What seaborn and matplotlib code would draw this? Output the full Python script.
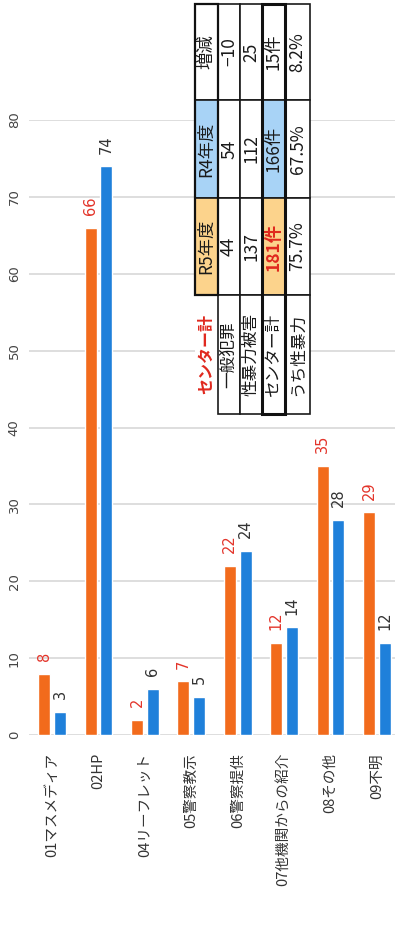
import matplotlib
matplotlib.use("Agg")
import matplotlib.pyplot as plt
from matplotlib.patches import Rectangle
import seaborn as sns
import pandas as pd

# ---- bar data ----
categories = ["01マスメディア", "02HP", "04リーフレット", "05警察教示",
              "06警察提供", "07他機関からの紹介", "08その他", "09不明"]
r5_values = [8, 66, 2, 7, 22, 12, 35, 29]
r4_values = [3, 74, 6, 5, 24, 14, 28, 12]
y_ticks = [0, 10, 20, 30, 40, 50, 60, 70, 80]

# ---- summary table data ----
table_title = "センター計"
table_header = ["R5年度", "R4年度", "増減"]
row_labels = ["一般犯罪", "性暴力被害", "センター計", "うち性暴力"]
col_r5 = ["44", "137", "181件", "75.7%"]
col_r4 = ["54", "112", "166件", "67.5%"]
col_diff = ["−10", "25", "15件", "8.2%"]

ORANGE = "#F26B1C"
BLUE = "#1F80DA"
RED = "#E0281E"
LIGHT_ORANGE = "#FCD38C"
LIGHT_BLUE = "#A8D3F6"
ROT = 90  # the whole chart is laid out turned a quarter turn

sns.set_theme(style="white")
plt.rcParams["font.family"] = ["Noto Sans CJK JP", "DejaVu Sans"]

W, H = 395, 939
fig = plt.figure(figsize=(W / 100, H / 100), dpi=100)


def fx(px):
    return px / W


def fy(py):
    return 1 - py / H


# plot area: value axis runs upward, 0 at py=735 and 80 at py=120
ax = fig.add_axes([fx(29), fy(735), fx(400) - fx(29), (735 - 120) / H])

df = pd.DataFrame({
    "category": categories * 2,
    "year": ["R5年度"] * len(categories) + ["R4年度"] * len(categories),
    "value": r5_values + r4_values,
})
sns.barplot(data=df, x="category", y="value", hue="year",
            hue_order=["R5年度", "R4年度"], palette=[ORANGE, BLUE],
            width=0.68, gap=0.24, saturation=1, legend=False, ax=ax,
            zorder=3)

ax.set_xlim(-0.5, 7.5)
ax.set_ylim(0, 80)
ax.set_yticks(y_ticks)
ax.set_yticklabels([str(t) for t in y_ticks], rotation=ROT, va="center",
                   fontsize=9.5, color="#444444", family="DejaVu Sans")
ax.tick_params(axis="y", length=0, pad=6)
ax.set_xticks(range(len(categories)))
ax.set_xticklabels(categories, rotation=ROT, ha="center", va="top",
                   fontsize=10.5, color="#333333")
ax.tick_params(axis="x", length=0, pad=13)
ax.set_xlabel("")
ax.set_ylabel("")
for s in ax.spines.values():
    s.set_visible(False)
ax.grid(axis="y", color="#d4d4d4", linewidth=1.1, zorder=0)
ax.set_axisbelow(True)

for cont, col in zip(ax.containers, ["#E3342A", "#333333"]):
    ax.bar_label(cont, labels=[str(int(b.get_height())) for b in cont],
                 padding=9, rotation=ROT, color=col, fontsize=10.5,
                 family="DejaVu Sans")

# ---- summary table (drawn turned, in figure pixel coordinates) ----
col_edges = [4, 100, 198, 295, 414]         # picture y: 増減 | R4 | R5 | labels
row_edges = [195, 218, 240, 262, 285, 310]  # picture x: header + 4 rows


def cell(x0, x1, y0, y1, face="white", lw=1.2):
    r = Rectangle((fx(x0), fy(y1)), fx(x1) - fx(x0), fy(y0) - fy(y1),
                  transform=fig.transFigure, facecolor=face,
                  edgecolor="#1a1a1a", linewidth=lw, zorder=5)
    fig.add_artist(r)


def ctext(x0, x1, y0, y1, s, color="#1a1a1a", weight="normal", size=12):
    fig.text(fx((x0 + x1) / 2), fy((y0 + y1) / 2), s, rotation=ROT,
             ha="center", va="center", color=color, fontsize=size,
             fontweight=weight, zorder=6)


# white backing under the whole table
fig.add_artist(Rectangle((fx(195), fy(col_edges[-1])), fx(310) - fx(195),
                         fy(4) - fy(col_edges[-1]), transform=fig.transFigure,
                         facecolor="white", edgecolor="none", zorder=4))

# columns ordered from top of picture: 増減, R4, R5
columns = [col_diff, col_r4, col_r5]
headers = [table_header[2], table_header[1], table_header[0]]
head_faces = ["white", LIGHT_BLUE, LIGHT_ORANGE]
for ci in range(3):
    y0, y1 = col_edges[ci], col_edges[ci + 1]
    cell(row_edges[0], row_edges[1], y0, y1, face=head_faces[ci])
    ctext(row_edges[0], row_edges[1], y0, y1, headers[ci], size=12.5)
    for ri in range(4):
        x0, x1 = row_edges[ri + 1], row_edges[ri + 2]
        face = "white"
        color = "#1a1a1a"
        if ri == 2 and ci == 1:
            face = LIGHT_BLUE
        if ri == 2 and ci == 2:
            face = LIGHT_ORANGE
            color = RED
        cell(x0, x1, y0, y1, face=face)
        ctext(x0, x1, y0, y1, columns[ci][ri], color=color,
              weight="bold" if color == RED else "normal", size=12.5)

# row label column
y0, y1 = col_edges[3], col_edges[4]
ctext(row_edges[0], row_edges[1], y0, y1, table_title, color=RED,
      weight="bold", size=11.5)
for ri in range(4):
    x0, x1 = row_edges[ri + 1], row_edges[ri + 2]
    cell(x0, x1, y0, y1)
    ctext(x0, x1, y0, y1, row_labels[ri], size=12)

# heavier frame around the total row
fig.add_artist(Rectangle((fx(262), fy(col_edges[-1])), fx(285) - fx(262),
                         fy(4) - fy(col_edges[-1]), transform=fig.transFigure,
                         facecolor="none", edgecolor="#111111",
                         linewidth=2.2, zorder=7))
# outer frame of the header row
fig.add_artist(Rectangle((fx(195), fy(295)), fx(218) - fx(195),
                         fy(4) - fy(295), transform=fig.transFigure,
                         facecolor="none", edgecolor="#111111",
                         linewidth=1.6, zorder=7))

fig.savefig("out.png", dpi=100)
